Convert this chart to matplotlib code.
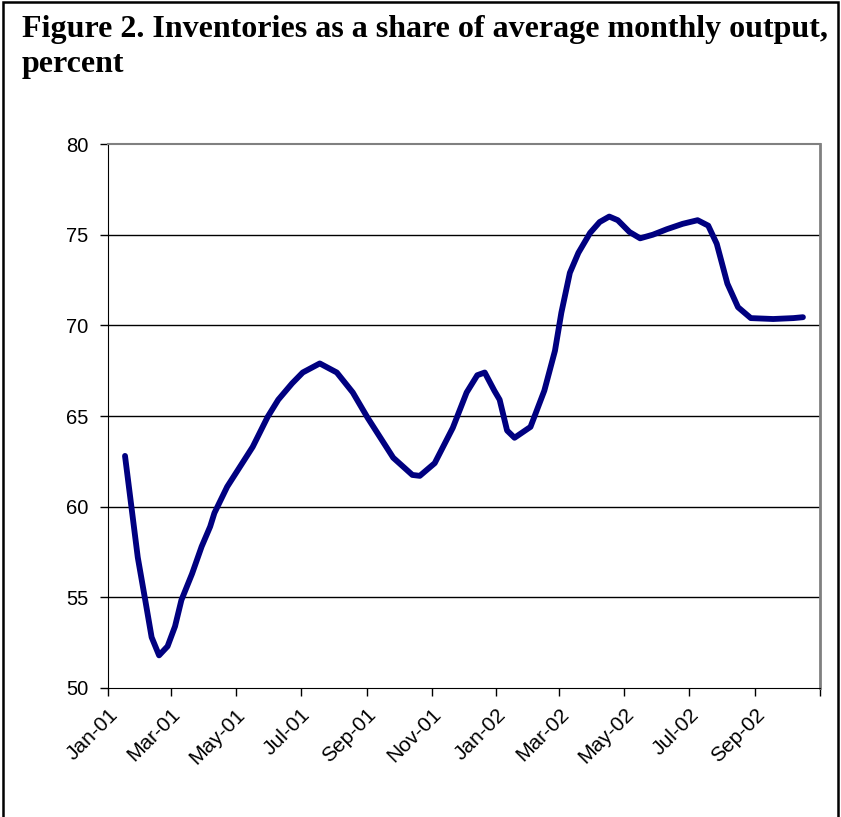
import matplotlib
matplotlib.use("Agg")
import matplotlib.pyplot as plt
from matplotlib.patches import Rectangle
import pandas as pd

# values
dates = [
    "2001-01-17", "2001-01-23", "2001-01-29", "2001-02-05", "2001-02-11", "2001-02-18",
    "2001-02-26", "2001-03-05", "2001-03-11", "2001-03-21", "2001-03-30", "2001-04-07",
    "2001-04-11", "2001-04-23", "2001-05-17", "2001-05-31", "2001-06-10", "2001-06-23",
    "2001-07-03", "2001-07-19", "2001-08-04", "2001-08-19", "2001-09-02", "2001-09-26",
    "2001-10-14", "2001-10-21", "2001-11-04", "2001-11-21", "2001-12-04", "2001-12-14",
    "2001-12-21", "2001-12-30", "2002-01-04", "2002-01-11", "2002-01-18", "2002-02-02",
    "2002-02-15", "2002-02-25", "2002-03-03", "2002-03-11", "2002-03-19", "2002-03-30",
    "2002-04-08", "2002-04-17", "2002-04-25", "2002-05-06", "2002-05-16", "2002-05-28",
    "2002-06-10", "2002-06-25", "2002-07-09", "2002-07-19", "2002-07-27", "2002-08-06",
    "2002-08-16", "2002-08-28", "2002-09-18", "2002-10-07", "2002-10-16",
]
values = [
    62.8, 60.0, 57.2, 54.85, 52.8, 51.8,
    52.3, 53.4, 54.85, 56.3, 57.8, 58.9,
    59.65, 61.1, 63.3, 64.95, 65.9, 66.8,
    67.4, 67.9, 67.4, 66.3, 64.9, 62.7,
    61.75, 61.7, 62.4, 64.35, 66.3, 67.25,
    67.4, 66.4, 65.9, 64.2, 63.8, 64.4,
    66.4, 68.6, 70.7, 72.9, 74.0, 75.1,
    75.7, 76.0, 75.8, 75.15, 74.8, 75.0,
    75.3, 75.6, 75.8, 75.5, 74.5, 72.3,
    71.0, 70.4, 70.35, 70.4, 70.45,
]
tick_dates = pd.date_range("2001-01-01", "2002-11-01", freq="2MS")
tick_labels = ["Jan-01", "Mar-01", "May-01", "Jul-01", "Sep-01", "Nov-01",
               "Jan-02", "Mar-02", "May-02", "Jul-02", "Sep-02", ""]
y_ticks = [50, 55, 60, 65, 70, 75, 80]
title = "Figure 2. Inventories as a share of average monthly output,\npercent"

x = pd.to_datetime(dates)

fig = plt.figure(figsize=(8.41, 8.17), dpi=100)
ax = fig.add_axes([0.1284, 0.1579, 0.8466, 0.6658])

for yv in y_ticks[1:-1]:
    ax.axhline(yv, color="black", linewidth=1.0, zorder=1)

ax.plot(x, values, color="#000080", linewidth=4.2, solid_capstyle="round",
        solid_joinstyle="round", zorder=3)

ax.set_xlim(tick_dates[0], tick_dates[-1])
ax.set_ylim(50, 80)
ax.set_yticks(y_ticks)
ax.set_xticks(tick_dates)
ax.set_xticklabels(tick_labels, rotation=45, ha="right", rotation_mode="anchor")

ax.tick_params(axis="both", direction="out", length=6, width=1, colors="black")
ax.tick_params(axis="x", pad=6, labelsize=15)
ax.tick_params(axis="y", pad=8, labelsize=14.5)
for lab in ax.get_xticklabels() + ax.get_yticklabels():
    lab.set_fontfamily("Liberation Sans")

ax.spines["left"].set_color("black")
ax.spines["bottom"].set_color("black")
ax.spines["top"].set_color("#808080")
ax.spines["top"].set_linewidth(1.5)
ax.spines["right"].set_color("#808080")
ax.spines["right"].set_linewidth(2)

fig.text(0.026, 0.982, title, fontsize=23, fontweight="bold",
         family="Liberation Serif", va="top", ha="left", linespacing=1.3)

fig.patches.append(Rectangle((0.004, -0.01), 0.993, 1.008, transform=fig.transFigure,
                             fill=False, edgecolor="black", linewidth=1.8))

fig.savefig("out.png", dpi=100)
